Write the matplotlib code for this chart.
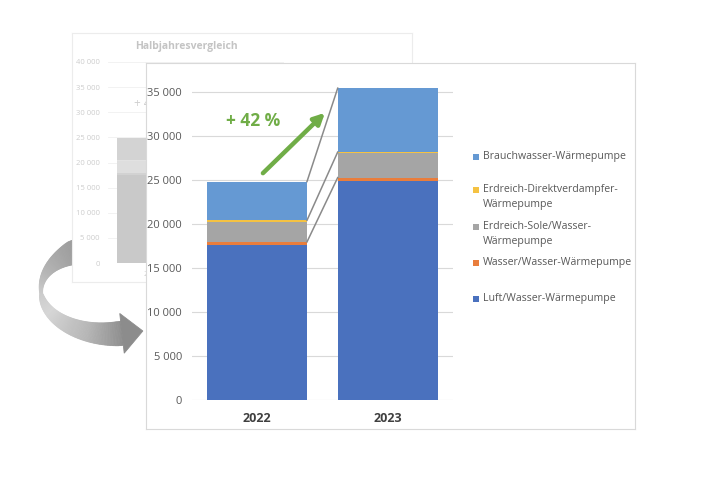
import numpy as np
import matplotlib
matplotlib.use("Agg")
import matplotlib.pyplot as plt
from matplotlib.patches import Polygon, Rectangle
from matplotlib.ticker import FuncFormatter
from matplotlib.transforms import Bbox, TransformedBbox

plt.rcParams['font.family'] = ['Open Sans', 'DejaVu Sans']

# data
years = ["2022", "2023"]
series = ["Luft/Wasser-Wärmepumpe", "Wasser/Wasser-Wärmepumpe",
          "Erdreich-Sole/Wasser-\nWärmepumpe", "Erdreich-Direktverdampfer-\nWärmepumpe",
          "Brauchwasser-Wärmepumpe"]
luft = [17600, 24900]
wasser = [350, 350]
sole = [2300, 2750]
direkt = [150, 150]
brauch = [4400, 7250]
values = [luft, wasser, sole, direkt, brauch]
colors = ["#4A71BE", "#E97D3C", "#A5A5A5", "#F5C242", "#6599D3"]
faded = ["#c9c9c9", "#d2d2d2", "#dedede", "#e2e2e2", "#d3d3d3"]
growth_label = "+ 42 %"

thousands = FuncFormatter(lambda v, p: f"{int(v):,}".replace(",", " "))

fig = plt.figure(figsize=(7.2, 4.8), dpi=100)

# ---- curved grey arrow (pixel coords) ----
deco = fig.add_axes([0, 0, 1, 1], zorder=0)
deco.set_xlim(0, 720)
deco.set_ylim(480, 0)
deco.axis("off")
cx, cy, rx, ry = 110, 290, 69, 44
t = np.radians(np.linspace(245, 80, 140))
c = np.column_stack([cx + rx * np.cos(t), cy + ry * np.sin(t)])
n = np.column_stack([ry * np.cos(t), rx * np.sin(t)])
n /= np.linalg.norm(n, axis=1)[:, None]
td = np.degrees(t)
w = np.where(td > 175, 3 + 21 * ((td - 175) / 62) ** 1.6, 3 + 18 * ((175 - td) / 75) ** 0.8)
w = np.minimum(w, 24)
outer = c + n * (w / 2)[:, None]
inner = c - n * (w / 2)[:, None]
lev = np.interp(td, [80, 110, 150, 175, 200, 245], [0.56, 0.72, 0.84, 0.80, 0.72, 0.60])
for i in range(len(t) - 1):
    g = lev[i]
    deco.add_patch(Polygon([outer[i], outer[i + 1], inner[i + 1], inner[i]],
                           closed=True, fc=(g, g, g), ec=(g, g, g), lw=0.6))
d = np.array([rx * np.sin(t[-1]), -ry * np.cos(t[-1])])
d /= np.linalg.norm(d)
nn = np.array([-d[1], d[0]])
base = c[-1]
deco.add_patch(Polygon([base + nn * 20, base + d * 21, base - nn * 20], closed=True,
                       fc="#8c8c8c", ec="#8c8c8c", lw=0.6))

# ---- faded background chart ----
bgpanel = fig.add_axes([72 / 720, (480 - 282) / 480, 340 / 720, 249 / 480], zorder=1)
bgpanel.set_xticks([])
bgpanel.set_yticks([])
for s in bgpanel.spines.values():
    s.set_color("#ececec")
bgpanel.text(186 / 720, 1 - 46 / 480, "Halbjahresvergleich", transform=fig.transFigure,
             ha="center", va="center", fontsize=7.5, fontweight="bold", color="#c4c4c4")

# visible part of the background chart (left of the main panel)
peek = TransformedBbox(Bbox([[72 / 720, (480 - 282) / 480], [146 / 720, 1 - 33 / 480]]),
                       fig.transFigure)

bgax = fig.add_axes([108 / 720, (480 - 263) / 480, 176 / 720, 201 / 480], zorder=2)
bgax.patch.set_alpha(0)
x = np.arange(len(years))
bottom = np.zeros(len(years))
for vals, col in zip(values, faded):
    bgax.bar(x, vals, 0.8, bottom=bottom, color=col, zorder=2)
    bottom += vals
bgax.set_xlim(-0.5, 1.5)
bgax.set_ylim(0, 40000)
bgax.set_yticks(np.arange(0, 40001, 5000))
bgax.yaxis.set_major_formatter(thousands)
bgax.grid(axis="y", color="#f0f0f0", lw=0.6, zorder=0)
bgax.set_xticks(x, years)
bgax.tick_params(length=0, labelsize=5.5, colors="#cdcdcd", pad=6)
for lbl in bgax.get_xticklabels():
    lbl.set_clip_box(peek)
    lbl.set_clip_on(True)
for s in bgax.spines.values():
    s.set_visible(False)
bg_txt = bgax.text(-0.2, 31800, growth_label, ha="left", va="center", fontsize=8.5,
                   color="#cfcfcf")
bg_txt.set_clip_box(peek)
bg_txt.set_clip_on(True)

# ---- main chart ----
panel = fig.add_axes([146 / 720, (480 - 429) / 480, 489 / 720, 366 / 480], zorder=3)
panel.set_xticks([])
panel.set_yticks([])
for s in panel.spines.values():
    s.set_color("#d9d9d9")

ax = fig.add_axes([191.7 / 720, 80 / 480, 261.3 / 720, 0.679], zorder=4)
ax.patch.set_alpha(0)
bw = 0.765
bottom = np.zeros(len(years))
tops = []
for vals, col in zip(values, colors):
    ax.bar(x, vals, bw, bottom=bottom, color=col, zorder=2)
    bottom = bottom + vals
    tops.append(bottom.copy())
ax.set_xlim(-0.5, 1.5)
ax.set_ylim(0, 37000)
ax.set_yticks(np.arange(0, 35001, 5000))
ax.yaxis.set_major_formatter(thousands)
ax.grid(axis="y", color="#d9d9d9", lw=0.8, zorder=0)
ax.set_xticks(x, years)
ax.tick_params(axis="y", length=0, labelsize=8, colors="#595959", pad=7)
ax.tick_params(axis="x", length=0, labelsize=9, colors="#404040", pad=9)
for lbl in ax.get_xticklabels():
    lbl.set_fontweight("bold")
for s in ax.spines.values():
    s.set_visible(False)

# connector lines between the bars
for k in (1, 3, 4):
    ax.plot([bw / 2, 1 - bw / 2], [tops[k][0], tops[k][1]], color="#8a8a8a", lw=1.1, zorder=3)

ax.annotate("", xy=(0.52, 32600), xytext=(0.045, 25750),
            arrowprops=dict(arrowstyle="-|>", color="#70AD47", lw=3.2, mutation_scale=16,
                            shrinkA=0, shrinkB=0))
ax.text(-0.03, 31700, growth_label, ha="center", va="center", fontsize=12.5,
        fontweight="bold", color="#70AD47")

# legend (top entry first)
leg_y = [157, 190, 227, 263, 299]
for name, col, yy in zip(series[::-1], colors[::-1], leg_y):
    fig.patches.append(Rectangle((473 / 720, 1 - (yy + 3) / 480), 6 / 720, 6 / 480,
                                 transform=fig.transFigure, fc=col, ec="none", zorder=5))
    ax.text(483 / 720, 1 - (yy - 6) / 480, name, transform=fig.transFigure, ha="left",
            va="top", fontsize=7.6, color="#595959", linespacing=1.45)

fig.savefig("out.png", dpi=100, facecolor="white")
